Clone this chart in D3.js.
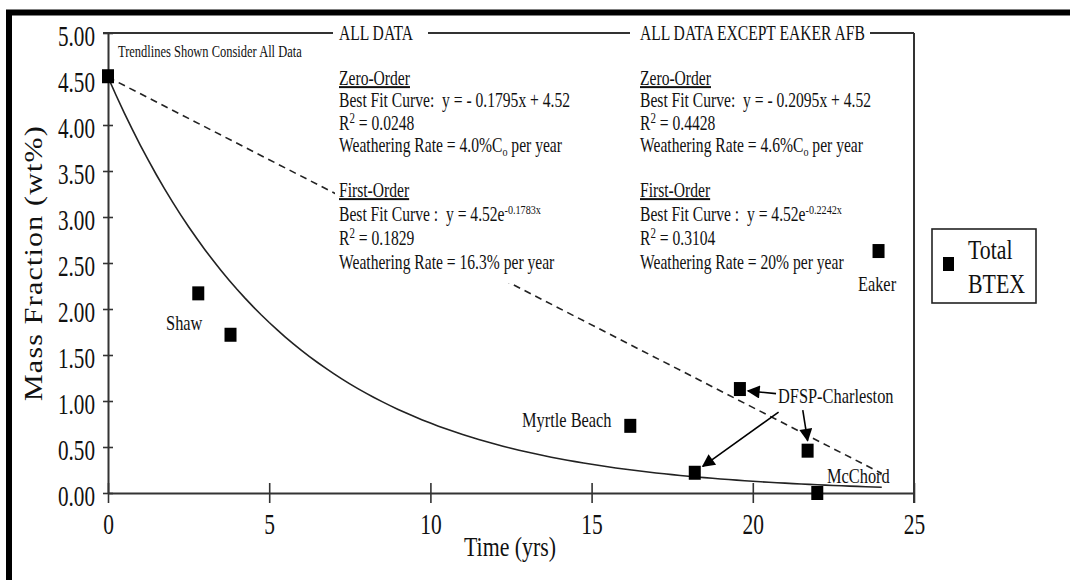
<!DOCTYPE html>
<html>
<head>
<meta charset="utf-8">
<script src="https://cdn.jsdelivr.net/npm/d3@7"></script>
<style>
  body { margin: 0; background: #fff; }
  text { font-family: "Liberation Serif", "Times New Roman", serif; fill: #111; white-space: pre; }
</style>
</head>
<body>
<div id="vis"></div>
<script>
// data
const sites  = ["Origin", "Shaw", "Shaw", "Myrtle Beach", "DFSP-Charleston", "DFSP-Charleston", "DFSP-Charleston", "McChord", "Eaker"];
const years  = [0, 2.8, 3.8, 16.2, 18.2, 19.6, 21.7, 22.0, 23.9];
const btex   = [4.53, 2.17, 1.72, 0.73, 0.22, 1.13, 0.46, 0.0, 2.63];

const xTicks = [0, 5, 10, 15, 20, 25];
const yTicks = [0, 0.5, 1, 1.5, 2, 2.5, 3, 3.5, 4, 4.5, 5];

// fitted trendlines (all data)
const zeroSlope = -0.1795, zeroIntercept = 4.52;
const firstK = -0.1783, firstC0 = 4.52;
const fitYears = d3.range(0, 24.01, 0.25);

const FRAME_WIDTH = 1070, FRAME_HEIGHT = 580;
const SQ = 0.78; // the original type is squeezed horizontally

const svg = d3.select("#vis").append("svg")
    .attr("width", FRAME_WIDTH)
    .attr("height", FRAME_HEIGHT);

// thick outer frame (only top/left visible)
svg.append("rect")
    .attr("x", 9).attr("y", 12.5)
    .attr("width", 1100).attr("height", 620)
    .attr("fill", "none").attr("stroke", "#000").attr("stroke-width", 6);

const x = d3.scaleLinear().domain([0, 25]).range([108, 914]);
const y = d3.scaleLinear().domain([0, 5]).range([493, 33]);

// helper for squeezed text
function txt(px, py, size, anchor) {
  return svg.append("text")
      .attr("transform", `translate(${px},${py}) scale(${SQ},1)`)
      .attr("font-size", size)
      .attr("text-anchor", anchor || "start");
}

// ---- axes
const xAxis = svg.append("g")
    .attr("transform", `translate(0,${y(0)})`)
    .call(d3.axisBottom(x).tickValues(xTicks).tickSizeOuter(0).tickFormat(d3.format("d")));
xAxis.select(".domain").attr("stroke", "#333").attr("stroke-width", 2);
xAxis.selectAll(".tick line").attr("stroke", "#333").attr("stroke-width", 1.6)
    .attr("y1", -10).attr("y2", 10);
xAxis.selectAll(".tick text")
    .attr("y", 0).attr("dy", 0)
    .attr("transform", `translate(0,41) scale(0.74,1)`)
    .attr("font-size", 29).attr("fill", "#111");

const yAxis = svg.append("g")
    .attr("transform", `translate(${x(0)},0)`)
    .call(d3.axisLeft(y).tickValues(yTicks).tickSizeOuter(0).tickFormat(d3.format(".2f")));
yAxis.select(".domain").attr("stroke", "#333").attr("stroke-width", 2);
yAxis.selectAll(".tick line").attr("stroke", "#333").attr("stroke-width", 1.6)
    .attr("x1", -5).attr("x2", 5);
yAxis.selectAll(".tick text")
    .attr("x", 0).attr("dy", 0)
    .attr("transform", `translate(-13,12) scale(0.73,1)`)
    .attr("font-size", 29).attr("fill", "#111");

// top and right frame of plot with section headers
const topY = y(5);
svg.append("line").attr("x1", x(0) - 5).attr("x2", 333).attr("y1", topY).attr("y2", topY)
    .attr("stroke", "#333").attr("stroke-width", 2);
svg.append("line").attr("x1", 428).attr("x2", 630).attr("y1", topY).attr("y2", topY)
    .attr("stroke", "#333").attr("stroke-width", 2);
svg.append("line").attr("x1", 870).attr("x2", x(25)).attr("y1", topY).attr("y2", topY)
    .attr("stroke", "#333").attr("stroke-width", 2);
svg.append("line").attr("x1", x(25)).attr("x2", x(25)).attr("y1", topY).attr("y2", y(0) + 10)
    .attr("stroke", "#333").attr("stroke-width", 2);

txt(339, topY + 7, 20).text("ALL DATA");
txt(640, topY + 7, 20).text("ALL DATA EXCEPT EAKER AFB");
txt(118, 57, 16).text("Trendlines Shown Consider All Data");

// ---- trendlines
svg.append("path")
    .datum([0, 24])
    .attr("d", d3.line().x(d => x(d)).y(d => y(zeroIntercept + zeroSlope * d)))
    .attr("fill", "none").attr("stroke", "#222").attr("stroke-width", 1.6)
    .attr("stroke-dasharray", "7,5");

svg.append("path")
    .datum(fitYears)
    .attr("d", d3.line().x(d => x(d)).y(d => y(firstC0 * Math.exp(firstK * d))))
    .attr("fill", "none").attr("stroke", "#222").attr("stroke-width", 1.6);

// ---- text blocks
function block(bx, by, lh, lines, bg) {
  if (bg) {
    svg.append("rect").attr("x", bx - 4).attr("y", by - 16)
        .attr("width", 250).attr("height", lh * 3 + 30).attr("fill", "#fff");
  }
  lines.forEach((ln, i) => {
    const t = txt(bx, by + lh * i, 20);
    ln.forEach(part => {
      const s = t.append("tspan").text(part.t);
      if (part.size) s.attr("font-size", part.size);
      if (part.dy) s.attr("dy", part.dy);
      if (part.u) s.style("text-decoration", "underline");
    });
  });
}

const sup2 = [{t: "R"}, {t: "2", size: 14, dy: -7}, {t: " = ", dy: 7}];
block(339, 85, 22.4, [
  [{t: "Zero-Order", u: true}],
  [{t: "Best Fit Curve:  y = - 0.1795x + 4.52"}],
  sup2.concat([{t: "0.0248"}]),
  [{t: "Weathering Rate = 4.0%C"}, {t: "o", size: 13, dy: 4}, {t: " per year", dy: -4}]
]);
block(339, 197, 24, [
  [{t: "First-Order", u: true}],
  [{t: "Best Fit Curve :  y = 4.52e"}, {t: "-0.1783x", size: 13, dy: -7}],
  sup2.concat([{t: "0.1829"}]),
  [{t: "Weathering Rate = 16.3% per year"}]
], true);
block(640, 85, 22.4, [
  [{t: "Zero-Order", u: true}],
  [{t: "Best Fit Curve:  y = - 0.2095x + 4.52"}],
  sup2.concat([{t: "0.4428"}]),
  [{t: "Weathering Rate = 4.6%C"}, {t: "o", size: 13, dy: 4}, {t: " per year", dy: -4}]
]);
block(640, 197, 24, [
  [{t: "First-Order", u: true}],
  [{t: "Best Fit Curve :  y = 4.52e"}, {t: "-0.2242x", size: 13, dy: -7}],
  sup2.concat([{t: "0.3104"}]),
  [{t: "Weathering Rate = 20% per year"}]
]);

// ---- data points
svg.selectAll(".pt")
    .data(years)
    .enter()
    .append("rect")
      .attr("class", "pt")
      .attr("x", (d) => x(d) - 6)
      .attr("y", (d, i) => y(btex[i]) - 7)
      .attr("width", 12).attr("height", 14)
      .attr("fill", "#000");

// ---- site labels (data coords)
const labelNames = ["Shaw", "Myrtle Beach", "Eaker", "McChord", "DFSP-Charleston"];
const labelX = [1.8, 12.84, 23.26, 22.3, 20.78];
const labelY = [1.77, 0.72, 2.2, 0.11, 0.98];
labelNames.forEach((n, i) => txt(x(labelX[i]), y(labelY[i]), 21).text(n));

// ---- arrows
svg.append("defs").append("marker")
    .attr("id", "ah").attr("viewBox", "0 0 10 10")
    .attr("refX", 9).attr("refY", 5)
    .attr("markerWidth", 18).attr("markerHeight", 13)
    .attr("markerUnits", "userSpaceOnUse")
    .attr("orient", "auto")
  .append("path").attr("d", "M0,0 L10,5 L0,10 z").attr("fill", "#000");

const arrowFrom = [[20.72, 1.08], [20.8, 0.88], [21.55, 0.9]];
const arrowTo   = [[19.85, 1.11], [18.45, 0.29], [21.7, 0.57]];
arrowFrom.forEach((f, i) => {
  svg.append("line")
      .attr("x1", x(f[0])).attr("y1", y(f[1]))
      .attr("x2", x(arrowTo[i][0])).attr("y2", y(arrowTo[i][1]))
      .attr("stroke", "#000").attr("stroke-width", 1.6)
      .attr("marker-end", "url(#ah)");
});

// ---- axis titles
txt(510, 556, 28, "middle").text("Time (yrs)");
svg.append("text")
    .attr("transform", `translate(42,263) scale(0.82,1) rotate(-90)`)
    .attr("font-size", 30).attr("text-anchor", "middle")
    .attr("letter-spacing", 1.2)
    .text("Mass Fraction (wt%)");

// ---- legend
svg.append("rect").attr("x", 932).attr("y", 229).attr("width", 104).attr("height", 74)
    .attr("fill", "none").attr("stroke", "#222").attr("stroke-width", 1.6);
svg.append("rect").attr("x", 943).attr("y", 257).attr("width", 11).attr("height", 14).attr("fill", "#000");
txt(968, 259, 28).text("Total");
txt(968, 293, 28).text("BTEX");
</script>
</body>
</html>
